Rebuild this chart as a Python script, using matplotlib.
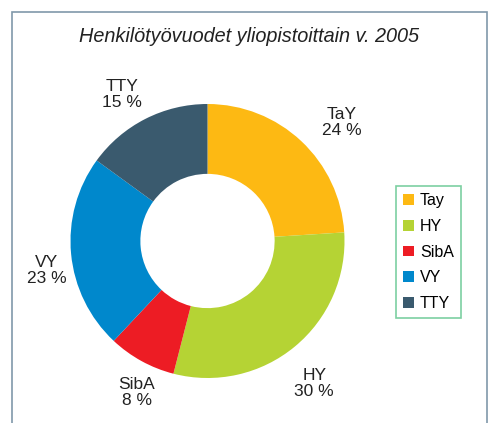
import numpy as np
import matplotlib.pyplot as plt
from matplotlib.patches import Rectangle

plt.rcParams['font.family'] = ['Liberation Sans', 'DejaVu Sans']

labels = ['TaY', 'HY', 'SibA', 'VY', 'TTY']
legend_labels = ['Tay', 'HY', 'SibA', 'VY', 'TTY']
shares = [24, 30, 8, 23, 15]
colors = ['#FDB913', '#B5D334', '#ED1C24', '#0088CC', '#3A5A6E']
# label placement: distance (fraction of radius) and small pixel nudges
label_dist = [1.31, 1.28, 1.22, 1.20, 1.25]
label_nudge = [(11, -12), (-5, -7), (10, -5), (3, -14), (-8, -6)]

W, H = 490, 423
fig = plt.figure(figsize=(W / 100, H / 100), dpi=100)
ax = fig.add_axes([0, 0, 1, 1])

cx, cy, r = 207.5, H - 241, 137
wedges, texts = ax.pie(shares, labels=[f'{l}\n{v} %' for l, v in zip(labels, shares)],
                       colors=colors, startangle=90, counterclock=False,
                       center=(cx, cy), radius=r,
                       wedgeprops=dict(width=r * 0.51, linewidth=0),
                       textprops=dict(fontsize=12.5, color='#222222'))
for w, t, d, (nx, ny) in zip(wedges, texts, label_dist, label_nudge):
    ang = np.deg2rad((w.theta1 + w.theta2) / 2)
    t.set_position((cx + d * r * np.cos(ang) + nx, cy + d * r * np.sin(ang) + ny))
    t.set_ha('center')
    t.set_va('center')
    t.set_linespacing(1.1)

ax.set_xlim(0, W)
ax.set_ylim(0, H)
ax.set_aspect('equal')
ax.axis('off')

# outer frame
ax.add_patch(Rectangle((12, -10), 475, H - 12 + 10, fill=False, edgecolor='#8098AA', linewidth=1.2))

ax.text(249, H - 36, 'Henkilötyövuodet yliopistoittain v. 2005', ha='center', va='center',
        fontsize=14.3, style='italic', color='#222222')

leg = ax.legend(wedges, legend_labels, loc='upper left', bbox_to_anchor=(396 / W, 1 - 186 / H),
                frameon=True, fontsize=11.5, handlelength=0.65, handleheight=0.65,
                labelspacing=0.67, handletextpad=0.4, borderpad=0.45, fancybox=False,
                borderaxespad=0)
leg.get_frame().set_edgecolor('#5CC48A')
leg.get_frame().set_linewidth(1.2)

fig.savefig('out.png', dpi=100)
